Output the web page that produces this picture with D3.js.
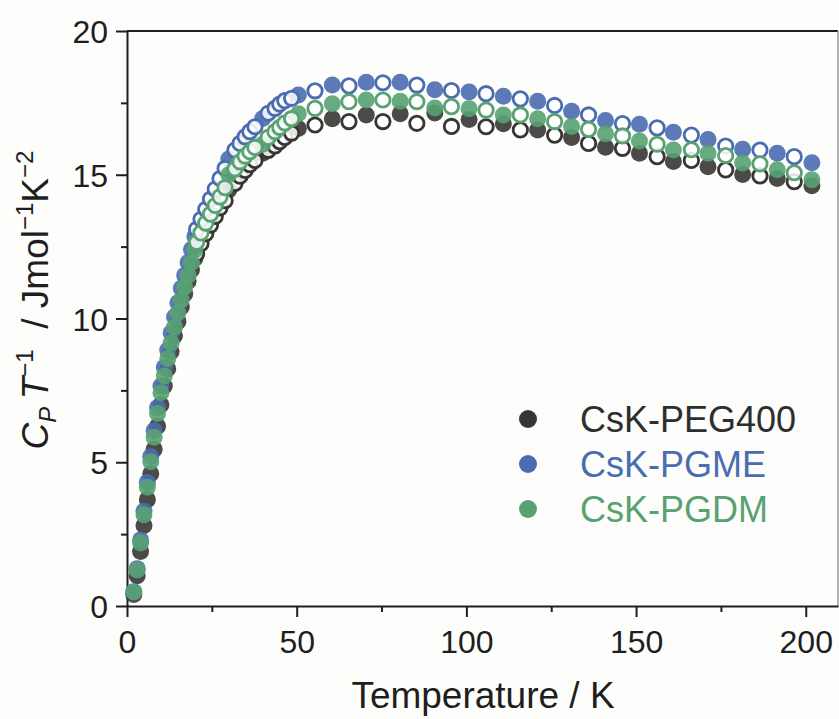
<!DOCTYPE html>
<html>
<head>
<meta charset="utf-8">
<script src="https://cdn.jsdelivr.net/npm/d3@7"></script>
<style>
  html, body { margin: 0; padding: 0; background: #fdfdfb; }
  svg { display: block; font-family: "Liberation Sans", Arial, sans-serif; }
</style>
</head>
<body>
<svg id="chart" width="839" height="719"></svg>
<script>
// Temperatures (K) of the filled-symbol run and of the open-symbol run
const filledT = [2,3,4,5,6,7,8,9,10,11,12,13,14,15,16,17,18,19,20,
                 30,40,50.5,60.5,70.5,80.5,90.7,100.8,110.9,121,131,141,151,161,171.2,181.4,191.6,201.8];
const openT = [20.5,21.8,23.2,24.6,26,27.4,28.9,31.8,33.3,34.8,36.2,37.7,41.6,43.6,45,46.5,48.5,
               55.4,65.4,75.4,85.4,95.6,105.8,115.9,126,136,146,156.2,166.3,176.4,186.5,196.6];

// C_P / T values (J mol^-1 K^-2)
const peg400Filled = [0.4,1.05,1.9,2.8,3.7,4.6,5.45,6.25,7.0,7.65,8.25,8.85,9.4,9.9,10.4,10.85,11.3,11.7,12.1,
                      14.47,15.75,16.61,16.95,17.08,17.12,17.15,16.92,16.77,16.56,16.3,15.96,15.75,15.46,15.28,15.01,14.87,14.62];
const pgmeFilled = [0.5,1.3,2.3,3.3,4.3,5.2,6.1,6.9,7.65,8.3,8.9,9.5,10.05,10.55,11.05,11.5,11.95,12.4,12.85,
                    15.55,16.96,17.77,18.12,18.22,18.22,17.96,17.88,17.73,17.56,17.21,16.89,16.76,16.48,16.23,15.89,15.75,15.42];
const pgdmFilled = [0.49,1.25,2.19,3.17,4.13,5.02,5.87,6.7,7.42,8.0,8.6,9.15,9.7,10.2,10.65,11.1,11.5,11.95,12.38,
                    15.0,16.06,17.12,17.47,17.6,17.56,17.32,17.3,17.08,16.95,16.68,16.43,16.17,15.86,15.75,15.41,15.17,14.83];

const peg400Open = [12.25,12.6,12.95,13.25,13.55,13.85,14.1,14.7,14.95,15.15,15.35,15.5,15.85,16.0,16.15,16.3,16.45,
                    16.73,16.85,16.85,16.79,16.68,16.67,16.56,16.38,16.09,15.92,15.63,15.5,15.17,14.96,14.76];
const pgmeOpen = [13.1,13.45,13.8,14.15,14.5,14.87,15.22,15.86,16.09,16.32,16.5,16.67,17.14,17.31,17.46,17.58,17.66,
                  17.92,18.09,18.2,18.12,17.93,17.82,17.64,17.41,17.08,16.78,16.63,16.38,16.0,15.86,15.63];
const pgdmOpen = [12.65,12.98,13.32,13.63,13.93,14.23,14.55,15.2,15.45,15.65,15.8,15.95,16.3,16.5,16.65,16.8,16.95,
                  17.31,17.54,17.6,17.54,17.37,17.25,17.08,16.85,16.58,16.35,16.06,15.87,15.67,15.38,15.07];

const seriesNames = ["CsK-PEG400", "CsK-PGME", "CsK-PGDM"];
const seriesColors = ["#383634", "#4a6cb0", "#58a272"];

const xTicks = [0, 50, 100, 150, 200];
const yTicks = [0, 5, 10, 15, 20];

const series = [
  { name: seriesNames[0], color: seriesColors[0], filled: peg400Filled, open: peg400Open },
  { name: seriesNames[1], color: seriesColors[1], filled: pgmeFilled, open: pgmeOpen },
  { name: seriesNames[2], color: seriesColors[2], filled: pgdmFilled, open: pgdmOpen }
];

const svg = d3.select("#chart");
const plotLeft = 127, plotRight = 838, plotTop = 31, plotBottom = 606;

const x = d3.scaleLinear().domain([0, 209.5]).range([plotLeft, plotRight]);
const y = d3.scaleLinear().domain([0, 20]).range([plotBottom, plotTop]);

const axisColor = "#1e1e1e";

// frame: top and right edges
svg.append("line").attr("x1", plotLeft).attr("x2", plotRight).attr("y1", plotTop).attr("y2", plotTop)
  .attr("stroke", axisColor).attr("stroke-width", 2);
svg.append("line").attr("x1", plotRight).attr("x2", plotRight).attr("y1", plotTop).attr("y2", plotBottom)
  .attr("stroke", "#9a9a9a").attr("stroke-width", 1.5);

// minor ticks
const xMinor = d3.range(25, 209, 50);
const yMinor = d3.range(2.5, 20, 5);
svg.append("g").attr("transform", `translate(0,${plotBottom})`)
  .call(d3.axisBottom(x).tickValues(xMinor).tickSize(6).tickFormat(""))
  .call(g => g.select(".domain").remove())
  .call(g => g.selectAll("line").attr("stroke", axisColor).attr("stroke-width", 2));
svg.append("g").attr("transform", `translate(${plotLeft},0)`)
  .call(d3.axisLeft(y).tickValues(yMinor).tickSize(6).tickFormat(""))
  .call(g => g.select(".domain").remove())
  .call(g => g.selectAll("line").attr("stroke", axisColor).attr("stroke-width", 2));

// major axes
const xAxis = svg.append("g").attr("transform", `translate(0,${plotBottom})`)
  .call(d3.axisBottom(x).tickValues(xTicks).tickSize(11).tickSizeOuter(0).tickPadding(13));
const yAxis = svg.append("g").attr("transform", `translate(${plotLeft},0)`)
  .call(d3.axisLeft(y).tickValues(yTicks).tickSize(11).tickSizeOuter(0).tickPadding(8));
[xAxis, yAxis].forEach(g => {
  g.select(".domain").attr("stroke", axisColor).attr("stroke-width", 2);
  g.selectAll(".tick line").attr("stroke", axisColor).attr("stroke-width", 2);
  g.selectAll(".tick text").attr("fill", "#1e1e1e").attr("font-size", 32)
    .attr("font-family", "Liberation Sans, Arial, sans-serif");
});
xAxis.selectAll(".tick text").attr("dy", "0.71em");
yAxis.selectAll(".tick text").attr("dy", "0.36em");

// data points
const plot = svg.append("g");
series.forEach(s => {
  const g = plot.append("g");
  g.selectAll("circle.f").data(filledT.map((t, i) => [t, s.filled[i]]))
    .join("circle").attr("class", "f")
    .attr("cx", d => x(d[0])).attr("cy", d => y(d[1])).attr("r", 8.5)
    .attr("fill", s.color).attr("fill-opacity", 0.9);
  g.selectAll("circle.o").data(openT.map((t, i) => [t, s.open[i]]))
    .join("circle").attr("class", "o")
    .attr("cx", d => x(d[0])).attr("cy", d => y(d[1])).attr("r", 7.2)
    .attr("fill", "#ffffff").attr("fill-opacity", 0.85)
    .attr("stroke", s.color).attr("stroke-width", 2.8);
});

// legend
const legend = svg.append("g");
series.forEach((s, i) => {
  const cy = 419 + i * 45;
  legend.append("circle").attr("cx", 528).attr("cy", cy).attr("r", 9).attr("fill", s.color);
  legend.append("text").attr("x", 580).attr("y", cy + 12.5)
    .attr("font-size", 36).attr("fill", i === 0 ? "#2e2e2e" : s.color).text(s.name);
});

// axis titles
svg.append("text").attr("x", 483).attr("y", 708).attr("text-anchor", "middle")
  .attr("font-size", 37).attr("fill", "#1e1e1e").text("Temperature / K");

const yt = svg.append("text")
  .attr("transform", "translate(48,300) rotate(-90)")
  .attr("text-anchor", "middle").attr("font-size", 37).attr("fill", "#1e1e1e");
yt.append("tspan").attr("font-style", "italic").text("C");
yt.append("tspan").attr("font-style", "italic").attr("font-size", 24).attr("dy", 8).text("P");
yt.append("tspan").attr("dy", -8).text("\u2009");
yt.append("tspan").attr("font-style", "italic").text("T");
yt.append("tspan").attr("font-size", 24).attr("dy", -15).text("\u22121");
yt.append("tspan").attr("dy", 15).text("\u00a0\u00a0/ Jmol");
yt.append("tspan").attr("font-size", 24).attr("dy", -15).text("\u22121");
yt.append("tspan").attr("dy", 15).text("K");
yt.append("tspan").attr("font-size", 24).attr("dy", -15).text("\u22122");
</script>
</body>
</html>
